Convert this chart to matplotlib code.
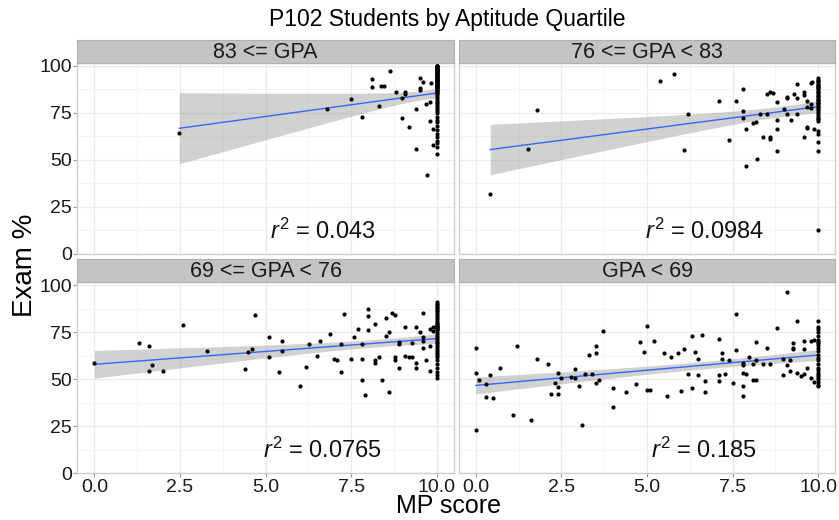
import numpy as np
import matplotlib
matplotlib.use("Agg")
import matplotlib.pyplot as plt

plt.rcParams['font.family'] = ['Liberation Sans', 'DejaVu Sans']
plt.rcParams['mathtext.fontset'] = 'custom'
plt.rcParams['mathtext.rm'] = 'Liberation Sans'
plt.rcParams['mathtext.it'] = 'Liberation Sans:italic'

# panel titles and r^2 labels
panels = ['83 <= GPA', '76 <= GPA < 83', '69 <= GPA < 76', 'GPA < 69']
r2_labels = ['0.043', '0.0984', '0.0765', '0.185']

# 83 <= GPA
tl_x = [2.48, 6.79, 7.5, 7.81, 8.11, 8.11, 8.37, 8.47, 8.3, 8.62, 8.81, 8.99, 8.99,
        9.08, 9.08, 9.2, 9.4, 9.4, 9.5, 9.59, 9.5, 9.5, 9.69, 9.71, 9.79, 9.79,
        9.88, 9.88, 9.83]
tl_y = [64.1, 76.8, 82.5, 73.0, 93.2, 88.9, 89.1, 89.1, 78.9, 97.1, 85.9, 83.0, 72.1,
        85.9, 84.8, 67.5, 77.0, 55.7, 93.4, 91.6, 88.0, 87.1, 79.5, 42.0, 80.9, 70.9,
        66.6, 58.0, 91.0]
tl_col = [100, 99, 98, 97, 96, 95, 94, 93, 92, 91, 90, 89, 88, 87, 86, 85, 84, 83,
          82, 81, 80, 79, 78, 77, 76, 75, 73, 71, 70, 68, 66, 64, 62, 60, 59, 57, 53,
          100, 99.5, 98.5, 97.5, 96.5, 95.5, 94.5, 93.5, 92.5, 91.5, 90.5, 89.5,
          88.5, 87.5, 86.5, 85.5, 100, 99, 98, 97, 96, 95, 94, 93, 92, 91, 90, 89,
          100, 98, 96, 94, 92, 90]

# 76 <= GPA < 83
tr_x = [0.42, 1.51, 1.80, 5.39, 5.80, 6.09, 6.21, 7.09, 7.39, 7.59, 7.80, 7.80, 7.80,
        7.9, 7.9, 8.09, 8.19, 8.2, 8.29, 8.4, 8.5, 8.59, 8.69, 8.5, 8.59, 8.59, 8.79,
        8.79, 8.79, 8.79, 9.0, 9.08, 9.08, 9.1, 9.19, 9.29, 9.39, 9.39, 9.39, 9.58,
        9.58, 9.58, 9.68, 9.68, 9.68, 9.68, 9.78, 9.82, 9.87, 9.8, 9.8]
tr_y = [31.8, 55.9, 76.6, 92.0, 95.5, 55.2, 74.5, 81.4, 60.7, 81.4, 87.7, 75.9, 72.3,
        66.2, 47.0, 69.6, 70.2, 50.4, 74.3, 62.0, 85.2, 86.3, 85.5, 74.6, 62.0, 61.2,
        80.9, 71.3, 66.6, 54.5, 77.1, 83.4, 82.7, 74.6, 71.4, 84.8, 90.2, 83.0, 74.6,
        85.9, 84.5, 62.0, 81.2, 78.0, 67.7, 67.0, 90.9, 91.4, 66.4, 79.5, 77.8]
tr_col = [93.5, 92.5, 91.5, 90.5, 89.5, 88.5, 87.5, 86.5, 85.5, 84.5, 83.5, 82.5,
          81.5, 80.5, 79.5, 78.5, 77.5, 76.5, 75.5, 74.5, 73.5, 72.5, 71.5, 70.5,
          65.5, 64.0, 59.5, 54.5, 13.0, 92, 90, 88, 86, 84, 82, 80, 78]

# 69 <= GPA < 76
bl_x = [0.0, 1.29, 1.58, 1.68, 1.59, 1.99, 2.59, 3.29, 4.39, 4.49, 4.59, 4.69, 5.09,
        5.09, 5.38, 5.48, 5.48, 5.99, 6.19, 6.28, 6.49, 6.59, 6.89, 6.99, 7.09, 7.2,
        7.2, 7.29, 7.5, 7.59, 7.69, 7.8, 7.8, 7.8, 7.9, 7.99, 7.99, 7.99, 8.2, 8.2,
        8.2, 8.3, 8.39, 8.5, 8.5, 8.6, 8.6, 8.7, 8.79, 8.79, 8.79, 8.89, 8.89, 8.89,
        9.08, 9.08, 9.18, 9.28, 9.28, 9.38, 9.38, 9.4, 9.5, 9.59, 9.59, 9.59, 9.59,
        9.69, 9.79, 9.79, 9.79, 9.88, 9.88]
bl_y = [58.7, 69.5, 67.4, 57.6, 54.4, 54.4, 78.9, 65.2, 55.3, 64.7, 66.1, 83.9, 72.3,
        61.9, 53.7, 70.4, 65.1, 46.5, 56.6, 68.6, 62.1, 70.4, 73.9, 60.8, 60.1, 53.7,
        68.6, 84.4, 60.8, 72.5, 76.8, 68.8, 60.8, 49.8, 41.8, 87.4, 83.5, 76.4, 79.3,
        60.1, 58.7, 61.9, 49.5, 72.9, 82.6, 75.0, 43.4, 85.3, 83.9, 61.9, 60.1, 69.7,
        68.6, 56.2, 77.8, 62.2, 61.7, 61.7, 69.3, 58.7, 56.2, 77.8, 75.0, 85.3, 72.2,
        70.4, 66.8, 60.1, 76.8, 67.6, 54.1, 77.8, 75.4]
bl_col = [91, 89.5, 88, 86, 84, 82, 80, 79, 78, 77, 76, 75, 74, 73, 72, 71, 70, 69,
          68, 67, 66, 65, 64, 63, 62, 60, 58, 56, 54, 52, 50.5,
          90, 88.5, 87, 85, 83, 81, 79.5, 78.5, 77.5, 76.5]

# GPA < 69
br_x = [0, 0, 0, 0.1, 0.31, 0.31, 0.41, 0.5, 0.7, 1.1, 1.2, 1.61, 1.8, 2.1, 2.2, 2.3,
        2.4, 2.4, 2.5, 2.4, 2.79, 2.89, 2.91, 3.0, 3.1, 3.2, 3.39, 3.3, 3.5, 3.5, 3.5,
        3.6, 3.7, 4.0, 4.0, 4.39, 4.69, 4.8, 4.9, 5.0, 5.0, 5.09, 5.19, 5.49, 5.59,
        5.7, 5.9, 5.99, 6.09, 6.21, 6.3, 6.3, 6.4, 6.5, 6.5, 6.6, 6.69, 6.69, 7.09,
        7.09, 7.09, 7.19, 7.19, 7.28, 7.39, 7.5, 7.59, 7.59, 7.8, 7.8, 7.8, 7.9, 7.8,
        7.8, 7.99, 8.09, 8.09, 8.19, 8.19, 8.19, 8.4, 8.59, 8.5, 8.79, 8.98, 8.98,
        9.08, 9.08, 9.18, 9.18, 9.27, 9.27, 9.27, 9.39, 9.39, 9.49, 9.58, 9.58, 9.58,
        9.68, 9.78, 9.78, 9.87, 9.87]
br_y = [66.5, 53.4, 22.9, 49.5, 47.3, 40.6, 52.0, 39.9, 56.2, 31.0, 67.4, 28.2, 60.5,
        58.3, 42.2, 48.1, 42.4, 53.4, 50.9, 45.9, 51.4, 50.5, 55.5, 46.6, 25.5, 53.0,
        53.0, 62.9, 67.4, 64.0, 48.1, 49.8, 75.4, 45.2, 35.3, 43.4, 47.3, 70.0, 64.4,
        78.2, 44.1, 44.1, 70.4, 63.7, 41.3, 61.9, 64.0, 43.8, 65.8, 52.7, 73.2, 45.2,
        64.7, 60.5, 52.3, 73.4, 48.8, 43.4, 71.3, 52.3, 48.8, 63.7, 60.5, 52.7, 60.1,
        48.2, 84.6, 65.4, 58.7, 57.3, 53.4, 52.7, 46.3, 41.3, 61.9, 58.0, 49.8, 49.5,
        69.7, 60.1, 58.3, 58.0, 66.5, 77.3, 60.5, 52.3, 96.6, 57.3, 54.4, 60.1, 69.3,
        66.8, 65.8, 80.8, 53.4, 51.6, 70.4, 65.8, 53.0, 55.8, 70.4, 50.9, 70.8, 48.4]
br_col = [81, 78, 76.5, 75, 73, 71, 70, 69, 68, 66.5, 65, 63, 61.5, 60, 58, 56, 55,
          53.5, 52, 51, 50, 48.5, 47, 46.5]

data = [(tl_x, tl_y, tl_col), (tr_x, tr_y, tr_col),
        (bl_x, bl_y, bl_col), (br_x, br_y, br_col)]

W, H = 839, 520
fig = plt.figure(figsize=(W / 100, H / 100), dpi=100)

lefts = [77.3, 458.7]
tops = [63.0, 282.3]
pw, ph, sh = 376.7, 191.0, 23.0

for i, (xs, ys, col) in enumerate(data):
    r, c = divmod(i, 2)
    x0 = lefts[c] / W
    y0 = 1 - (tops[r] + ph) / H
    ax = fig.add_axes([x0, y0, pw / W, ph / H])
    x = np.array(xs + [10.0] * len(col))
    y = np.array(ys + col)

    # linear fit with 95% confidence band
    n = len(x)
    b, a = np.polyfit(x, y, 1)
    xx = np.linspace(x.min(), x.max(), 80)
    resid = y - (a + b * x)
    s = np.sqrt(np.sum(resid ** 2) / (n - 2))
    sxx = np.sum((x - x.mean()) ** 2)
    se = s * np.sqrt(1 / n + (xx - x.mean()) ** 2 / sxx)
    fit = a + b * xx
    ax.fill_between(xx, fit - 1.98 * se, fit + 1.98 * se, color='#999999',
                    alpha=0.45, lw=0, zorder=2)
    ax.plot(xx, fit, color='#3366FF', lw=1.0, zorder=3)
    ax.scatter(x, y, s=9, color='black', lw=0, zorder=4)

    ax.text(6.67, 12, r'$r^2$ = ' + r2_labels[i], fontsize=17, ha='center',
            va='center', color='#111111', zorder=5)

    ax.set_xlim(-0.5, 10.5)
    ax.set_ylim(0, 101.5)
    ax.set_xticks([0, 2.5, 5, 7.5, 10])
    ax.set_xticks([1.25, 3.75, 6.25, 8.75], minor=True)
    ax.set_yticks([0, 25, 50, 75, 100])
    ax.set_yticks([12.5, 37.5, 62.5, 87.5], minor=True)
    ax.grid(which='major', color='#ebebeb', lw=0.9, zorder=0)
    ax.grid(which='minor', color='#f4f4f4', lw=0.7, zorder=0)
    ax.set_axisbelow(True)
    for sp in ax.spines.values():
        sp.set_color('#cfcfcf')
        sp.set_linewidth(1.0)
    ax.tick_params(which='major', length=3, width=0.8, color='#999999',
                   labelsize=14, labelcolor='#1a1a1a', pad=1)
    ax.tick_params(which='minor', length=0)
    if r == 0:
        ax.tick_params(labelbottom=False, length=0, axis='x')
    else:
        ax.set_xticklabels(['0.0', '2.5', '5.0', '7.5', '10.0'])
    if c == 1:
        ax.tick_params(labelleft=False, length=0, axis='y')

    # facet strip
    sax = fig.add_axes([x0, 1 - tops[r] / H, pw / W, sh / H])
    sax.set_facecolor('#c4c4c4')
    sax.set_xticks([])
    sax.set_yticks([])
    for sp in sax.spines.values():
        sp.set_color('#b0b0b0')
    sax.text(0.5, 0.45, panels[i], ha='center', va='center', fontsize=15.5,
             color='#1a1a1a', transform=sax.transAxes)

fig.text(0.533, 0.962, 'P102 Students by Aptitude Quartile', ha='center',
         va='center', fontsize=16.5)
fig.text(0.535, 0.003, 'MP score', ha='center', va='bottom', fontsize=18)
fig.text(0.03, 0.49, 'Exam %', ha='center', va='center', fontsize=20,
         rotation=90)

fig.savefig('out.png', dpi=100)
